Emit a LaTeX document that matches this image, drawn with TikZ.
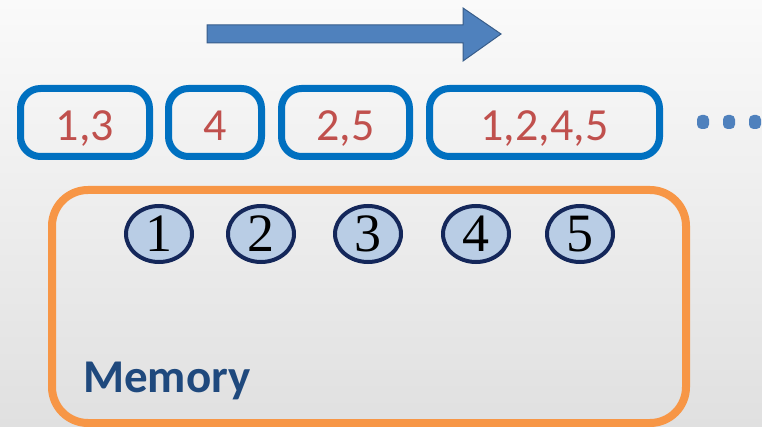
\documentclass[tikz,border=0pt]{standalone}
\usepackage{fontspec}
\newfontfamily\carlito{Carlito}
\newfontfamily\cellfont{Liberation Serif}
\usetikzlibrary{shapes.geometric}
\definecolor{bgtop}{HTML}{FAFAFA}
\definecolor{bgbottom}{HTML}{E0E0E0}
\definecolor{arrowfill}{HTML}{4F81BD}
\definecolor{arrowline}{HTML}{385D8A}
\definecolor{setline}{HTML}{0070C0}
\definecolor{settext}{HTML}{C0504D}
\definecolor{memline}{HTML}{F79646}
\definecolor{memtext}{HTML}{1F497D}
\definecolor{cellfill}{HTML}{B9CDE5}
\definecolor{cellline}{HTML}{14275A}
\begin{document}
\begin{tikzpicture}[x=1pt,y=-1pt,
  setbox/.style={draw=setline, line width=7pt, rounded corners=20pt,
    minimum height=68pt, inner sep=0pt, text=settext,
    font=\carlito\fontsize{46}{55}\selectfont,
    text height=36pt, text depth=0pt},
  cell/.style={ellipse, draw=cellline, fill=cellfill, line width=4pt,
    minimum width=66pt, minimum height=56pt, inner sep=0pt,
    font=\cellfont\fontsize{54}{60}\selectfont, text height=36pt, text depth=0pt},
  moredot/.style={fill=arrowfill, rounded corners=4.5pt, minimum width=12pt,
    minimum height=14pt, inner sep=0pt}]
  % background
  \shade[top color=bgtop, bottom color=bgbottom] (0,0) rectangle (762,427);
  \useasboundingbox (0,0) rectangle (762,427);

  % direction of time
  \filldraw[fill=arrowfill, draw=arrowline, line width=1pt]
    (207,25) -- (463,25) -- (463,8) -- (501,34) -- (463,61) -- (463,43)
    -- (207,43) -- cycle;

  % sets of touched cells
  \node[setbox, minimum width=129pt] (s1) at (85,122.5) {1,3};
  \node[setbox, minimum width=93pt] (s2) at (215,122.5) {4};
  \node[setbox, minimum width=128pt] (s3) at (345.5,122.5) {2,5};
  \node[setbox, minimum width=230pt] (s4) at (544.5,122.5) {1,2,4,5};

  % continuation dots
  \node[moredot] (d1) at (703,122) {};
  \node[moredot] (d2) at (729,122) {};
  \node[moredot] (d3) at (755,122) {};

  % memory region
  \draw[memline, line width=8pt, rounded corners=36pt] (52,190) rectangle (686,423);
  \node[anchor=base west, inner sep=0pt, text=memtext,
    font=\carlito\bfseries\fontsize{47}{56}\selectfont] (mem) at (83,392) {Memory};

  % memory cells
  \node[cell] (c1) at (159,234) {1};
  \node[cell] (c2) at (261,234) {2};
  \node[cell] (c3) at (368,234) {3};
  \node[cell] (c4) at (476,234) {4};
  \node[cell] (c5) at (580,234) {5};
\end{tikzpicture}
\end{document}
